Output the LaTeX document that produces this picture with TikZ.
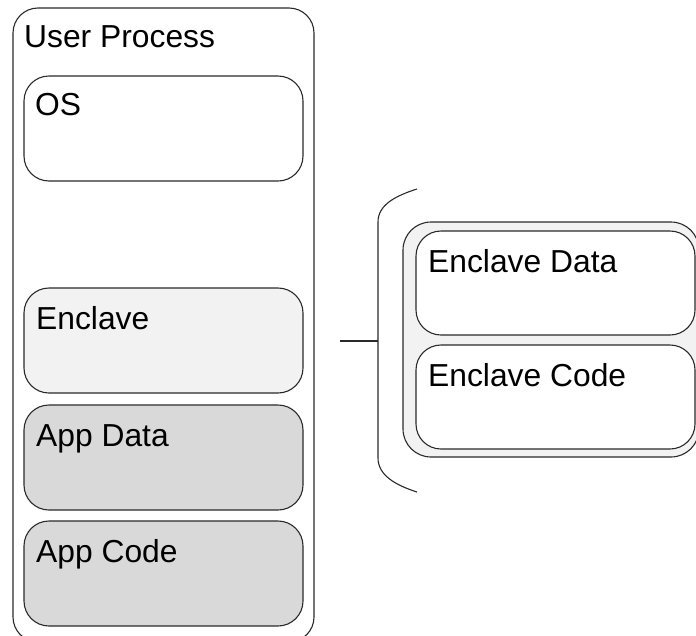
\documentclass[tikz,border=0pt]{standalone}
\usepackage{fontspec}
\setmainfont{Liberation Sans}
\definecolor{enclavefill}{HTML}{F2F2F2}
\definecolor{appfill}{HTML}{D9D9D9}
\definecolor{edge}{HTML}{2A2A2A}
\begin{document}
\begin{tikzpicture}[x=1pt,y=-1pt,
  box/.style={draw=edge, line width=1.1pt, rounded corners=25pt, inner sep=0pt,
    outer sep=0pt, anchor=north west, minimum width=#1},
  box/.default=279pt,
  lbl/.style={anchor=base west, inner sep=0pt, font=\fontsize{31.8}{38}\selectfont}]
\useasboundingbox (0,0) rectangle (696,635);
\clip (0,0) rectangle (696,635);

% user process address space
\node[box=301pt, minimum height=634pt] (proc) at (13,8) {};
\node[lbl] (proctxt) at ([xshift=11pt, yshift=-39pt]proc.north west) {User Process};

\node[box, minimum height=105pt, fill=white] (os) at (24,76) {};
\node[lbl] (ostxt) at ([xshift=11pt, yshift=-39pt]os.north west) {OS};

\node[box, minimum height=105pt, fill=enclavefill] (encl) at (24,288) {};
\node[lbl] (encltxt) at ([xshift=12pt, yshift=-41pt]encl.north west) {Enclave};

\node[box, minimum height=105pt, fill=appfill] (appdata) at (24,405) {};
\node[lbl] (appdatatxt) at ([xshift=12pt, yshift=-41pt]appdata.north west) {App Data};

\node[box, minimum height=105pt, fill=appfill] (appcode) at (24,521) {};
\node[lbl] (appcodetxt) at ([xshift=12pt, yshift=-41pt]appcode.north west) {App Code};

% expanded view of the enclave
\node[box=296pt, minimum height=235pt, fill=enclavefill, rounded corners=28pt] (encbig) at (403,222) {};
\node[box=279pt, minimum height=104pt, fill=white] (encdata) at (416,231) {};
\node[lbl] (encdatatxt) at ([xshift=12pt, yshift=-41pt]encdata.north west) {Enclave Data};
\node[box=279pt, minimum height=104pt, fill=white] (enccode) at (416,345) {};
\node[lbl] (enccodetxt) at ([xshift=12pt, yshift=-41pt]enccode.north west) {Enclave Code};

% brace and its connector
\coordinate (bracetop) at (417,189);
\coordinate (bracebot) at (417,492);
\coordinate (bracemid) at (378,341);
\coordinate (lineend) at (340,341);
\draw[edge, line width=1.1pt] (bracetop) .. controls (395,196) and (378,205) .. (378,222)
  -- (378,458) .. controls (378,475) and (395,485) .. (bracebot);
\draw[edge, line width=1.1pt] (lineend) -- (bracemid);
\end{tikzpicture}
\end{document}
